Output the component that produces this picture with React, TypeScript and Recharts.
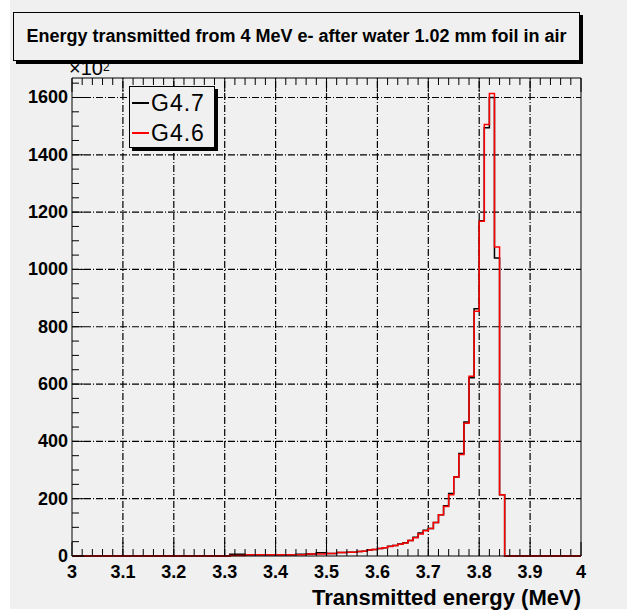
import React from 'react';
import { ComposedChart, Line, XAxis, YAxis, ReferenceLine } from 'recharts';

// histogram binning: 100 bins of 0.01 MeV from 3 to 4 MeV, counts in units of 10^2
const ENERGY_MIN = 3;
const ENERGY_MAX = 4;
const BIN_WIDTH = 0.01;

const g47Counts = [
    0, 0, 0, 0, 0, 0, 0, 0, 0, 0,
    0, 0, 0, 0, 0, 0, 0, 0, 0, 0,
    0, 0, 0, 0, 0, 0, 0, 0, 0, 0,
    0, 6, 6, 6, 4, 4, 4, 4, 4, 4,
    4, 4, 4, 4, 6, 6, 7, 7, 11, 11,
    9, 9, 12, 12, 13, 13, 16, 17, 21, 23,
    26, 29, 34, 37, 42, 46, 54, 65, 80, 90,
    96, 117, 144, 175, 218, 276, 358, 468, 622, 863,
    1170, 1494, 1600, 1040, 214, 0, 0, 0, 0, 0,
    0, 0, 0, 0, 0, 0, 0, 0, 0, 0,
];

const g46Counts = [
    0, 0, 0, 0, 0, 0, 0, 0, 0, 0,
    0, 0, 0, 0, 0, 0, 0, 0, 0, 0,
    0, 0, 0, 0, 0, 0, 0, 0, 0, 0,
    0, 2, 2, 2, 4, 4, 4, 4, 4, 4,
    4, 4, 4, 4, 4, 4, 7, 7, 7, 7,
    9, 9, 12, 12, 13, 13, 16, 17, 21, 23,
    26, 29, 33, 37, 41, 45, 54, 64, 77, 88,
    96, 117, 144, 173, 214, 276, 354, 463, 627, 854,
    1168, 1506, 1614, 1078, 214, 0, 0, 0, 0, 0,
    0, 0, 0, 0, 0, 0, 0, 0, 0, 0,
];

const xMajorTicks = [3, 3.1, 3.2, 3.3, 3.4, 3.5, 3.6, 3.7, 3.8, 3.9, 4];
const yMajorTicks = [0, 200, 400, 600, 800, 1000, 1200, 1400, 1600];
const Y_MAX = 1668;

const xAllTicks = Array.from({ length: 51 }, (_, i) => Math.round((3 + i * 0.02) * 100) / 100);
const yAllTicks = Array.from({ length: 34 }, (_, i) => i * 50);

// step-histogram points: left edge of every bin plus the closing right edge
const histData = g47Counts.map((v, i) => ({
    e: Math.round((ENERGY_MIN + i * BIN_WIDTH) * 100) / 100,
    g47: v,
    g46: g46Counts[i],
}));
histData.push({ e: ENERGY_MAX, g47: g47Counts[g47Counts.length - 1], g46: g46Counts[g46Counts.length - 1] });

const FONT = '"Liberation Sans", Arial, Helvetica, sans-serif';
const BG = '#f0f0f0';

const isMajorX = (v: number) => Math.abs(v * 10 - Math.round(v * 10)) < 1e-6;
const isMajorY = (v: number) => v % 200 === 0;

const BottomTick = (props: any) => {
    const { x, y, payload } = props;
    const major = isMajorX(payload.value);
    return (
        <g>
            <line x1={x} y1={y} x2={x} y2={y - (major ? 14 : 7)} stroke="#000" />
            {major && (
                <text x={x} y={y + 22} textAnchor="middle" fontFamily={FONT} fontWeight="bold" fontSize={18} fill="#000">
                    {String(payload.value)}
                </text>
            )}
        </g>
    );
};

const TopTick = (props: any) => {
    const { x, y, payload } = props;
    const major = isMajorX(payload.value);
    return <line x1={x} y1={y} x2={x} y2={y + (major ? 14 : 7)} stroke="#000" />;
};

const LeftTick = (props: any) => {
    const { x, y, payload } = props;
    const major = isMajorY(payload.value);
    return (
        <g>
            <line x1={x} y1={y} x2={x + (major ? 12 : 7)} y2={y} stroke="#000" />
            {major && (
                <text x={x - 4} y={y + 6} textAnchor="end" fontFamily={FONT} fontWeight="bold" fontSize={18} fill="#000">
                    {payload.value}
                </text>
            )}
        </g>
    );
};

const RightTick = (props: any) => {
    const { x, y, payload } = props;
    const major = isMajorY(payload.value);
    return <line x1={x} y1={y} x2={x - (major ? 12 : 7)} y2={y} stroke="#000" />;
};

const GRID_DASH = '7 2 1 2';

const App: React.FC = () => {
    return (
        <div style={{ position: 'absolute', left: 0, top: 0, width: 627, height: 612, background: '#fff' }}>
            <div style={{ position: 'absolute', left: 10, top: 0, width: 617, height: 609, background: BG }} />
            <div style={{ position: 'absolute', left: 0, top: 0 }}>
                <ComposedChart width={627} height={612} data={histData} margin={{ top: 0, right: 0, bottom: 0, left: 0 }}>
                    <XAxis xAxisId="bottom" dataKey="e" type="number" domain={[ENERGY_MIN, ENERGY_MAX]} ticks={xAllTicks}
                        interval={0} height={56} tickSize={0} tickMargin={0} tickLine={false}
                        axisLine={{ stroke: '#000' }} tick={<BottomTick />} />
                    <XAxis xAxisId="top" orientation="top" dataKey="e" type="number" domain={[ENERGY_MIN, ENERGY_MAX]} ticks={xAllTicks}
                        interval={0} height={78} tickSize={0} tickMargin={0} tickLine={false}
                        axisLine={{ stroke: '#000' }} tick={<TopTick />} />
                    <YAxis yAxisId="left" type="number" domain={[0, Y_MAX]} ticks={yAllTicks} interval={0} width={72}
                        tickSize={0} tickMargin={0} tickLine={false} axisLine={{ stroke: '#000' }} tick={<LeftTick />} />
                    <YAxis yAxisId="right" orientation="right" type="number" domain={[0, Y_MAX]} ticks={yAllTicks} interval={0} width={46}
                        tickSize={0} tickMargin={0} tickLine={false} axisLine={{ stroke: '#000' }} tick={<RightTick />} />

                    {xMajorTicks.slice(1, -1).map((v) => (
                        <ReferenceLine key={'gx' + v} x={v} xAxisId="bottom" yAxisId="left" stroke="#000" strokeWidth={1.2} strokeDasharray={GRID_DASH} />
                    ))}
                    {yMajorTicks.slice(1).map((v) => (
                        <ReferenceLine key={'gy' + v} y={v} xAxisId="bottom" yAxisId="left" stroke="#000" strokeWidth={1.2} strokeDasharray={GRID_DASH} />
                    ))}

                    <Line xAxisId="bottom" yAxisId="left" type="stepAfter" dataKey="g47" name="G4.7" stroke="#000"
                        strokeWidth={1.5} dot={false} isAnimationActive={false} />
                    <Line xAxisId="bottom" yAxisId="left" type="stepAfter" dataKey="g46" name="G4.6" stroke="#ff0000"
                        strokeWidth={1.5} dot={false} isAnimationActive={false} />
                </ComposedChart>
            </div>

            {/* title box */}
            <div style={{
                position: 'absolute', left: 13, top: 12, width: 565, height: 47, border: '1px solid #000',
                boxShadow: '3px 3px 0 #000', background: BG, display: 'flex', alignItems: 'center', justifyContent: 'center',
                fontFamily: FONT, fontWeight: 'bold', fontSize: 18, color: '#000', whiteSpace: 'nowrap',
            }}>
                Energy transmitted from 4 MeV e- after water 1.02 mm foil in air
            </div>

            {/* x10^2 multiplier */}
            <div style={{ position: 'absolute', zIndex: 2, left: 69, top: 57, fontFamily: FONT, fontSize: 20, color: '#000', lineHeight: '22px' }}>
                ×10<span style={{ fontSize: 12, verticalAlign: 'top', position: 'relative', top: -1 }}>2</span>
            </div>

            {/* legend */}
            <div style={{
                position: 'absolute', left: 129, top: 86, width: 84, height: 60, border: '1px solid #000',
                boxShadow: '3px 3px 0 #000', background: BG, fontFamily: FONT, fontSize: 23, letterSpacing: 1, color: '#000',
            }}>
                {[{ label: 'G4.7', color: '#000' }, { label: 'G4.6', color: '#ff0000' }].map((item, i) => (
                    <div key={item.label} style={{ position: 'absolute', left: 2, top: 3 + i * 30, height: 26, display: 'flex', alignItems: 'center' }}>
                        <span style={{ display: 'inline-block', width: 17, height: 1.5, background: item.color, marginRight: 2 }} />
                        <span>{item.label}</span>
                    </div>
                ))}
            </div>

            {/* x axis title */}
            <div style={{
                position: 'absolute', right: 46, top: 585, fontFamily: FONT, fontWeight: 'bold', fontSize: 22,
                color: '#000', whiteSpace: 'nowrap', lineHeight: '26px',
            }}>
                Transmitted energy (MeV)
            </div>
        </div>
    );
};

export default App;
